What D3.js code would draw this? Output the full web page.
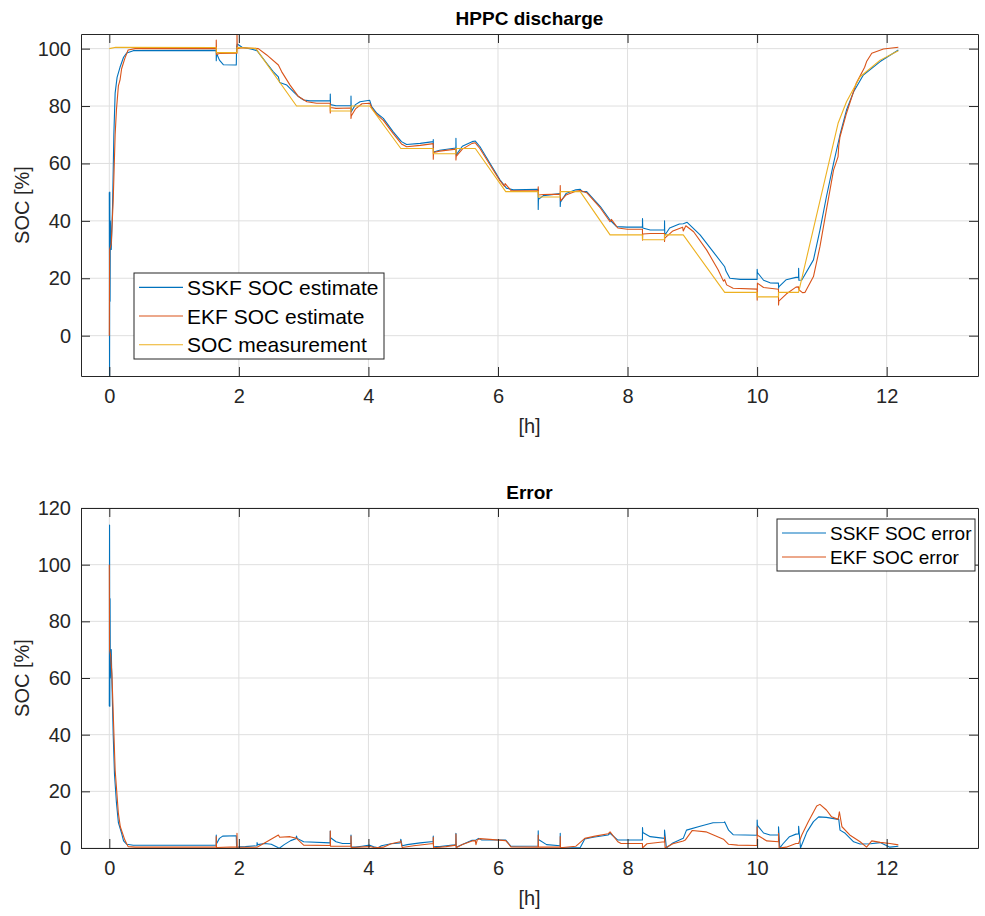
<!DOCTYPE html>
<html>
<head>
<meta charset="utf-8">
<script src="https://cdn.jsdelivr.net/npm/d3@7"></script>
<style>
  body { margin: 0; background: #fff; }
  svg { display: block; font-family: "Liberation Sans", Arial, Helvetica, sans-serif; }
</style>
</head>
<body>
<svg id="fig" width="985" height="916"></svg>
<script>
// x ticks (hours) and y ticks
var xTicks = [0, 2, 4, 6, 8, 10, 12]
var yTicksTop = [0, 20, 40, 60, 80, 100]
var yTicksBottom = [0, 20, 40, 60, 80, 100, 120]

// [t in h, SOC %]
var sskfSoc = [[0,50],[0.004,-14],[0.008,50],[0.012,12],[0.016,40],[0.03,30],[0.05,45],[0.07,70],[0.09,84.5],[0.12,90],[0.165,93.5],[0.22,97],[0.27,98.5],[0.37,99.3],[1.65,99.4],[1.651,95.8],[1.655,98.4],[1.7,96],[1.76,94.4],[1.96,94.3],[1.965,100.5],[1.975,101.6],[2.05,100.5],[2.2,99.8],[2.28,99.3],[2.33,97.8],[2.43,94.9],[2.53,92],[2.61,90.2],[2.63,88.2],[2.74,87.3],[2.84,85],[2.92,83.3],[3.0,82.1],[3.1,81.8],[3.41,81.9],[3.411,84.2],[3.415,80.5],[3.5,80.1],[3.73,80.1],[3.731,83.5],[3.735,78],[3.8,80.5],[3.87,81.5],[4.02,82],[4.05,79.8],[4.13,77.5],[4.23,75.7],[4.38,71.1],[4.51,67.6],[4.59,66.6],[4.8,67],[5.0,67.6],[5.001,68.3],[5.005,64],[5.1,64.6],[5.35,65.4],[5.351,68.8],[5.355,63],[5.45,66],[5.6,67.6],[5.65,67.8],[5.72,65.9],[6.03,54.3],[6.13,51.4],[6.24,50.8],[6.62,51],[6.621,44],[6.625,47.5],[6.7,48.8],[6.96,49.5],[6.961,45],[6.965,46.5],[7.05,49.5],[7.2,50.8],[7.27,51],[7.3,50.2],[7.37,50.2],[7.58,45],[7.73,40.3],[7.83,38],[7.99,37.8],[8.23,37.9],[8.231,40.8],[8.235,37.5],[8.35,36.8],[8.57,36.8],[8.571,40],[8.575,35],[8.65,37.5],[8.8,38.9],[8.86,39],[8.92,39.5],[9.12,35.1],[9.32,29.3],[9.5,24],[9.52,22.5],[9.58,20],[9.74,19.6],[10.0,19.6],[10.001,23.1],[10.005,22],[10.1,19.3],[10.2,18.4],[10.33,18.3],[10.331,16.5],[10.335,17],[10.45,19.5],[10.6,20.3],[10.64,20.4],[10.641,23.5],[10.645,19.3],[10.69,19.4],[10.87,26.4],[10.97,36.8],[11.07,48.4],[11.18,60],[11.28,70],[11.38,78.6],[11.49,85],[11.64,90.8],[11.9,95.5],[12.18,99.5]]

var ekfSoc = [[0,0],[0.005,30],[0.03,32],[0.06,47],[0.09,70],[0.11,78.6],[0.14,87],[0.165,89],[0.19,93],[0.24,96.6],[0.29,99.5],[0.4,100],[1.65,100.1],[1.651,103],[1.655,98],[1.7,98.3],[1.97,98.4],[1.971,106],[1.975,100],[2.05,100.3],[2.3,100],[2.43,97.8],[2.61,94.3],[2.66,92],[2.79,87.3],[2.92,83.3],[3.05,81.5],[3.2,81],[3.41,81],[3.411,77.6],[3.415,79.5],[3.5,79.2],[3.73,79.3],[3.731,75.7],[3.735,76.5],[3.8,79],[3.9,80.8],[4.02,81],[4.06,79],[4.13,77],[4.23,75],[4.38,70.5],[4.51,66.8],[4.59,65.8],[4.8,66.3],[5.0,66.9],[5.001,61.5],[5.005,63.8],[5.1,64.3],[5.35,65],[5.351,61.2],[5.355,62.5],[5.45,65],[5.6,67],[5.65,67.2],[5.72,65.2],[6.03,54],[6.1,52],[6.11,53],[6.2,50.6],[6.62,50.5],[6.621,51.9],[6.625,49],[6.7,49.2],[6.96,49.3],[6.961,52.3],[6.965,47],[7.05,49],[7.2,50.3],[7.27,50.6],[7.37,49.8],[7.58,44.5],[7.73,39.7],[7.75,40.5],[7.85,37.5],[8.0,37.1],[8.23,37.1],[8.231,33.3],[8.235,35.4],[8.35,35.6],[8.57,35.6],[8.571,32.8],[8.575,34],[8.7,36.5],[8.85,37.8],[8.86,36.5],[8.9,38.3],[9.02,36.2],[9.22,29.9],[9.4,22.9],[9.48,19],[9.5,19.5],[9.53,17.7],[9.63,16.5],[10.0,16.2],[10.001,12.4],[10.005,18.3],[10.1,16.8],[10.33,16.2],[10.331,10.7],[10.335,12],[10.45,14.5],[10.6,16.9],[10.64,17],[10.645,16],[10.7,15],[10.74,15.1],[10.87,20.6],[10.97,31],[11.07,43.8],[11.18,57.7],[11.25,62.4],[11.26,66],[11.28,69.3],[11.38,77.5],[11.53,87.9],[11.66,93.5],[11.69,95.5],[11.77,98.4],[11.95,99.9],[12.18,100.5]]

var socMeas = [[0,100],[0.1,100.5],[1.65,100.4],[1.651,98.6],[1.97,98.6],[1.971,100.4],[2.26,100.1],[2.89,80],[3.41,80],[3.411,78.3],[3.73,78.3],[3.731,80],[4.02,80],[4.5,65.2],[5.0,65.2],[5.001,63.4],[5.35,63.4],[5.351,65.2],[5.65,65.2],[6.12,50.2],[6.62,50.2],[6.621,48.3],[6.96,48.3],[6.961,50.2],[7.27,50.2],[7.73,35.1],[8.23,35.1],[8.231,33.4],[8.57,33.4],[8.571,35.1],[8.86,35.1],[9.5,15.1],[10.0,15.1],[10.001,13.5],[10.33,13.5],[10.331,15.1],[10.64,15.1],[11.25,74],[11.38,81.5],[11.59,90.2],[11.9,96],[12.18,99.3]]

var sskfErr = [[0,50],[0.004,114],[0.008,50],[0.012,88],[0.016,60],[0.03,70],[0.04,59],[0.06,40],[0.08,26],[0.11,16],[0.14,9],[0.19,5.2],[0.22,2.5],[0.27,1.3],[0.37,0.95],[1.65,0.95],[1.651,4.6],[1.655,1.5],[1.7,3.4],[1.75,4.2],[1.96,4.3],[1.965,0],[2.0,0.4],[2.1,0.5],[2.28,0.8],[2.281,1.9],[2.29,1.2],[2.4,1.6],[2.5,1.3],[2.61,0.1],[2.63,0],[2.7,1.2],[2.8,2.6],[2.88,3.3],[2.89,4.2],[2.9,3.4],[3.0,2.2],[3.41,1.8],[3.411,6],[3.415,3.6],[3.5,2.2],[3.6,1.6],[3.73,1.6],[3.731,4.6],[3.735,0.3],[3.8,0.3],[3.9,0.6],[4.02,1.0],[4.08,0.4],[4.15,0.1],[4.2,0.8],[4.35,1.5],[4.49,1.8],[4.5,3.1],[4.52,0.8],[4.6,1.2],[4.8,1.8],[5.0,2.3],[5.001,4.2],[5.005,0.6],[5.1,0.5],[5.2,0.8],[5.33,1.1],[5.35,1.2],[5.351,5.2],[5.355,0.3],[5.45,1.2],[5.6,2.7],[5.65,2.7],[5.7,3.4],[5.75,2.8],[6.12,2.8],[6.2,0.6],[6.62,0.7],[6.621,6.1],[6.625,3],[6.75,1.2],[6.96,0.8],[6.961,5.2],[6.965,0.2],[7.03,0],[7.27,0.2],[7.34,3.2],[7.47,3.8],[7.7,4.6],[7.73,5.2],[7.85,2.8],[8.23,2.8],[8.231,7.2],[8.235,5.5],[8.35,4],[8.57,3.4],[8.571,6.3],[8.6,0],[8.7,1.8],[8.86,3.4],[8.91,6.3],[9.12,7.7],[9.32,8.9],[9.49,9.0],[9.5,9.2],[9.56,6.3],[9.63,4.7],[10.0,4.5],[10.001,9.9],[10.005,8],[10.1,5.3],[10.2,4.6],[10.33,4.6],[10.331,7.5],[10.35,0],[10.4,1.5],[10.5,4],[10.6,4.9],[10.64,5],[10.641,7.7],[10.67,0],[10.77,5.7],[10.87,9.3],[10.95,11],[11.07,10.8],[11.25,10.1],[11.26,10.2],[11.28,6.3],[11.36,5.2],[11.49,2.2],[11.59,1.4],[11.75,1.5],[11.9,1.9],[12.05,0.3],[12.18,0.6]]

var ekfErr = [[0,100],[0.004,70],[0.02,68],[0.04,61.6],[0.09,27.5],[0.14,12.2],[0.17,7.5],[0.24,2.8],[0.29,0.5],[0.4,0.3],[1.65,0.3],[1.651,4],[1.655,0.2],[1.97,0.4],[1.971,5.2],[1.975,0.3],[2.28,0.25],[2.43,2.2],[2.61,4.6],[2.63,3.8],[2.79,4],[2.89,3.4],[3.0,1],[3.41,0.9],[3.411,6],[3.415,0.6],[3.73,0.6],[3.731,4.2],[3.735,0.2],[4.02,0.5],[4.1,0.1],[4.23,0.3],[4.35,1.5],[4.49,2.2],[4.5,2.5],[4.52,0.2],[4.7,0.8],[5.0,1.6],[5.001,3.8],[5.005,0.1],[5.2,0.5],[5.35,1],[5.351,4.9],[5.355,0.1],[5.45,1.2],[5.6,2.5],[5.65,2.6],[5.66,1.2],[5.68,2.9],[5.72,3.3],[6.12,2.6],[6.2,0.4],[6.62,0.3],[6.621,4.6],[6.625,0.3],[6.96,0.3],[6.961,4],[6.965,0.1],[7.2,0.6],[7.34,3.4],[7.5,4.2],[7.7,5.0],[7.73,5.7],[7.85,2.2],[7.9,1.6],[8.23,1.6],[8.231,0],[8.3,1.5],[8.57,2.2],[8.571,4],[8.58,0],[8.7,1.5],[8.86,2.5],[8.89,2.8],[9.0,6.2],[9.21,5.7],[9.48,3.1],[9.56,1.3],[9.7,1.0],[10.0,0.9],[10.001,7.5],[10.005,4.5],[10.15,2.5],[10.33,2.2],[10.331,5.2],[10.34,0],[10.45,0.3],[10.6,1.6],[10.64,1.6],[10.69,4.6],[10.79,9.3],[10.92,14.8],[10.97,15.4],[11.07,13.4],[11.15,11],[11.25,10.1],[11.27,12.8],[11.31,7.5],[11.43,4.6],[11.59,2.2],[11.69,0.3],[11.77,2.5],[11.9,2],[12.05,1.6],[12.18,1.1]]

var topLegend = ["SSKF SOC estimate", "EKF SOC estimate", "SOC measurement"]
var bottomLegend = ["SSKF SOC error", "EKF SOC error"]

var colors = ["#0072BD", "#D95319", "#EDB120"]
var ink = "#262626"

var svg = d3.select("#fig")

function panel(opt) {
  var x = d3.scaleLinear().domain([-0.437, 13.41]).range([opt.left, opt.right])
  var y = d3.scaleLinear().domain(opt.ydom).range([opt.bottom, opt.top])
  var g = svg.append("g")
  var w = opt.right - opt.left, h = opt.bottom - opt.top

  g.append("rect")
    .attr("x", opt.left).attr("y", opt.top).attr("width", w).attr("height", h)
    .attr("fill", "#fff")

  // grid
  g.selectAll(".gx").data(xTicks).enter().append("line")
    .attr("x1", function(d) { return x(d) }).attr("x2", function(d) { return x(d) })
    .attr("y1", opt.top).attr("y2", opt.bottom)
    .attr("stroke", "#dfdfdf").attr("stroke-width", 1)
  g.selectAll(".gy").data(opt.yticks).enter().append("line")
    .attr("y1", function(d) { return y(d) }).attr("y2", function(d) { return y(d) })
    .attr("x1", opt.left).attr("x2", opt.right)
    .attr("stroke", "#dfdfdf").attr("stroke-width", 1)

  var clipId = "clip" + opt.id
  svg.append("clipPath").attr("id", clipId).append("rect")
    .attr("x", opt.left).attr("y", opt.top).attr("width", w).attr("height", h)

  var line = d3.line().x(function(d) { return x(d[0]) }).y(function(d) { return y(d[1]) })
  var lines = g.append("g").attr("clip-path", "url(#" + clipId + ")")
  opt.series.forEach(function(s, i) {
    lines.append("path").datum(s)
      .attr("d", line)
      .attr("fill", "none")
      .attr("stroke", colors[i])
      .attr("stroke-width", 1.1)
      .attr("stroke-linejoin", "round")
  })

  // axes with inward ticks, mirrored (box on)
  var tl = 9
  var axB = d3.axisBottom(x).tickValues(xTicks).tickSizeInner(-tl).tickSizeOuter(0).tickPadding(13)
  var axT = d3.axisTop(x).tickValues(xTicks).tickSizeInner(-tl).tickSizeOuter(0).tickFormat("")
  var axL = d3.axisLeft(y).tickValues(opt.yticks).tickSizeInner(-tl).tickSizeOuter(0).tickPadding(10)
  var axR = d3.axisRight(y).tickValues(opt.yticks).tickSizeInner(-tl).tickSizeOuter(0).tickFormat("")

  function style(sel) {
    sel.select(".domain").attr("stroke", ink).attr("stroke-width", 1)
    sel.selectAll(".tick line").attr("stroke", ink).attr("stroke-width", 1)
    sel.selectAll(".tick text").attr("fill", ink).style("font-size", "20px").style("font-family", "'Liberation Sans', Arial, sans-serif")
  }
  g.append("g").attr("transform", "translate(0," + opt.bottom + ")").call(axB).call(style)
  g.append("g").attr("transform", "translate(0," + opt.top + ")").call(axT).call(style)
  g.append("g").attr("transform", "translate(" + opt.left + ",0)").call(axL).call(style)
  g.append("g").attr("transform", "translate(" + opt.right + ",0)").call(axR).call(style)

  // title & labels
  g.append("text")
    .attr("x", (opt.left + opt.right) / 2).attr("y", opt.top - 9)
    .attr("text-anchor", "middle").attr("font-weight", "bold")
    .attr("font-size", 19).attr("fill", "#000")
    .text(opt.title)
  g.append("text")
    .attr("x", (opt.left + opt.right) / 2).attr("y", opt.bottom + 57)
    .attr("text-anchor", "middle").attr("font-size", 20).attr("fill", ink)
    .text("[h]")
  g.append("text")
    .attr("transform", "translate(" + 29 + "," + (opt.top + opt.bottom) / 2 + ") rotate(-90)")
    .attr("text-anchor", "middle").attr("font-size", 20).attr("fill", ink)
    .text("SOC [%]")

  // legend
  var L = opt.legend
  var lg = g.append("g")
  lg.append("rect")
    .attr("x", L.x).attr("y", L.y).attr("width", L.w).attr("height", L.h)
    .attr("fill", "#fff").attr("stroke", ink).attr("stroke-width", 1)
  L.labels.forEach(function(t, i) {
    var cy = L.y + L.pad + L.row * (i + 0.5)
    lg.append("line")
      .attr("x1", L.x + 5).attr("x2", L.x + 49).attr("y1", cy).attr("y2", cy)
      .attr("stroke", colors[i]).attr("stroke-width", 1.1)
    lg.append("text")
      .attr("x", L.x + 53).attr("y", cy).attr("dy", "0.36em")
      .attr("font-size", L.fs).attr("fill", "#000")
      .text(t)
  })
}

panel({
  id: "top", left: 81, right: 978, top: 34, bottom: 376,
  ydom: [-14.05, 105.1], yticks: yTicksTop,
  series: [sskfSoc, ekfSoc, socMeas],
  title: "HPPC discharge",
  legend: { x: 134, y: 273, w: 250, h: 86, pad: 0, row: 28.7, fs: 21, labels: topLegend }
})

panel({
  id: "bot", left: 81, right: 978, top: 508, bottom: 848,
  ydom: [0, 120], yticks: yTicksBottom,
  series: [sskfErr, ekfErr],
  title: "Error",
  legend: { x: 777, y: 519, w: 198, h: 52, pad: 2, row: 24, fs: 19, labels: bottomLegend }
})
</script>
</body>
</html>
